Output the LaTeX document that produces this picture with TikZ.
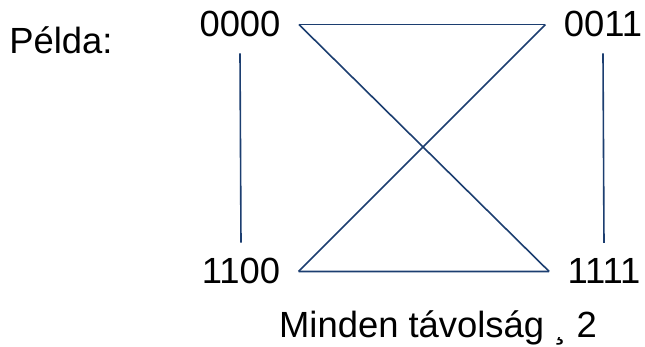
\documentclass[tikz,border=0pt]{standalone}
\usepackage{fontspec}
\setmainfont{Liberation Sans}
\usepackage{tikz}
\usetikzlibrary{positioning}

\definecolor{edgeblue}{RGB}{28,62,112}

\begin{document}
\begin{tikzpicture}[
  x=0.5pt, y=-0.5pt,
  word/.style={font=\fontsize{18.2}{22}\selectfont, inner sep=0pt, anchor=base},
  code/.style={word, inner xsep=9pt, inner ysep=7.8pt},
  edge/.style={draw=edgeblue, line width=0.8pt},
]
\useasboundingbox (0,0) rectangle (645,347);

% Title and the four code words at the corners.
\node[word] (title) at (61,54)  {Példa:};
\node[code] (c0000) at (240,37) {0000};
\node[code] (c0011) at (603,37) {0011};
\node[code] (c1100) at (241,284) {1100};
\node[code] (c1111) at (604,284) {1111};
\node[word] (note)  at (438,338) {Minden távolság ¸ 2};

% Every pair of code words is joined.
\draw[edge] (c0000.south) -- (c1100.north);
\draw[edge] (c0011.south) -- (c1111.north);
\draw[edge] (c0000.east)  -- (c0011.west);
\draw[edge] (c1100.east)  -- (c1111.west);
\draw[edge] (c0000.east)  -- (c1111.west);
\draw[edge] (c1100.east)  -- (c0011.west);

\end{tikzpicture}
\end{document}
